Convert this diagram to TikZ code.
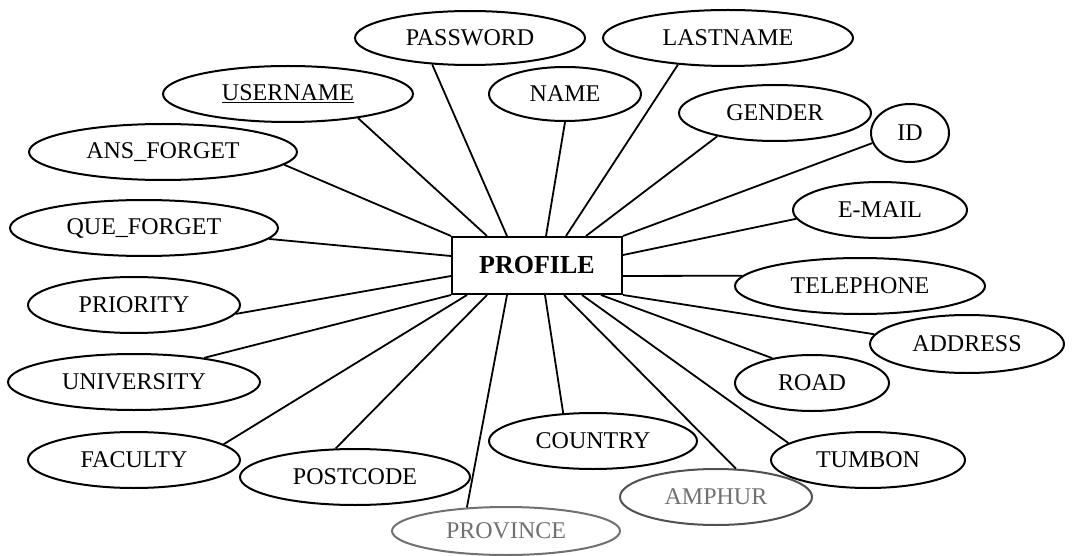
\documentclass[tikz,border=0pt]{standalone}
\usepackage{fontspec}
\setmainfont{Liberation Serif}
\usetikzlibrary{shapes.geometric}
\definecolor{faded}{RGB}{112,112,112}
\definecolor{halffaded}{RGB}{80,80,80}
\tikzset{
  attr/.style={ellipse, draw, line width=2pt, inner sep=0pt,
    font=\fontsize{24}{24}\selectfont},
  ent/.style={rectangle, draw, line width=2pt, inner sep=0pt,
    minimum width=170pt, minimum height=57pt,
    font=\fontsize{26}{26}\selectfont\bfseries},
  link/.style={line width=1.8pt}
}
\begin{document}
\begin{tikzpicture}[x=1pt,y=-1pt]
\useasboundingbox (0,0) rectangle (1073,556);
% entity
\node[ent] (pf) at (537,265.5) {PROFILE};
% attributes
\node[attr, minimum width=230pt, minimum height=54pt] (pw) at (470,38) {PASSWORD};
\node[attr, minimum width=250pt, minimum height=56pt] (un) at (288,94) {\underline{USERNAME}};
\node[attr, minimum width=268pt, minimum height=56pt] (af) at (163,152) {ANS\_FORGET};
\node[attr, minimum width=268pt, minimum height=56pt] (qf) at (144,228) {QUE\_FORGET};
\node[attr, minimum width=212pt, minimum height=56pt] (pr) at (134,305) {PRIORITY};
\node[attr, minimum width=252pt, minimum height=56pt] (uv) at (134,382) {UNIVERSITY};
\node[attr, minimum width=212pt, minimum height=56pt] (fa) at (134,460) {FACULTY};
\node[attr, minimum width=230pt, minimum height=56pt] (pc) at (355,477) {POSTCODE};
\node[attr, draw=faded, text=faded, minimum width=228pt, minimum height=48pt] (pv) at (506,531) {PROVINCE};
\node[attr, minimum width=208pt, minimum height=56pt] (co) at (593,441) {COUNTRY};
\node[attr, draw=halffaded, text=faded, minimum width=192pt, minimum height=56pt] (am) at (716,497) {AMPHUR};
\node[attr, minimum width=194pt, minimum height=56pt] (tu) at (868,460) {TUMBON};
\node[attr, minimum width=154pt, minimum height=56pt] (rd) at (812,383) {ROAD};
\node[attr, minimum width=194pt, minimum height=58pt] (ad) at (967,344) {ADDRESS};
\node[attr, minimum width=250pt, minimum height=56pt] (te) at (860,286) {TELEPHONE};
\node[attr, minimum width=174pt, minimum height=56pt] (em) at (880,210) {E-MAIL};
\node[attr, minimum width=78pt, minimum height=58pt] (id) at (910,133) {ID};
\node[attr, minimum width=192pt, minimum height=56pt] (ge) at (775,113) {GENDER};
\node[attr, minimum width=250pt, minimum height=56pt] (ln) at (728,38) {LASTNAME};
\node[attr, minimum width=152pt, minimum height=54pt] (na) at (565,94) {NAME};
% connectors
\draw[link] ([xshift=56pt]pf.north west) -- (pw.215);
\draw[link] ([xshift=36pt]pf.north west) -- (un.341);
\draw[link] (pf.north west) -- (af.354);
\draw[link] ([yshift=-20pt]pf.north west) -- (qf.355);
\draw[link] ([yshift=-40pt]pf.north west) -- (pr.355);
\draw[link] (pf.south west) -- (uv.19);
\draw[link] ([xshift=16pt]pf.south west) -- (fa.10);
\draw[link] ([xshift=36pt]pf.south west) -- (pc.124);
\draw[link] ([xshift=56pt]pf.south west) -- (pv.149);
\draw[link] ([xshift=94pt]pf.south west) -- (co.137);
\draw[link] ([xshift=113pt]pf.south west) -- (am.55);
\draw[link] ([xshift=131pt]pf.south west) -- (tu.168);
\draw[link] ([xshift=150pt]pf.south west) -- (rd.148);
\draw[link] (pf.south east) -- (ad.174);
\draw[link] ([yshift=-40pt]pf.north east) -- (te.175.7);
\draw[link] ([yshift=-19pt]pf.north east) -- (em.186);
\draw[link] (pf.north east) -- (id.195);
\draw[link] ([xshift=135pt]pf.north west) -- (ge.202);
\draw[link] ([xshift=115pt]pf.north west) -- (ln.208);
\draw[link] ([xshift=95pt]pf.north west) -- (na.270);
\end{tikzpicture}
\end{document}
